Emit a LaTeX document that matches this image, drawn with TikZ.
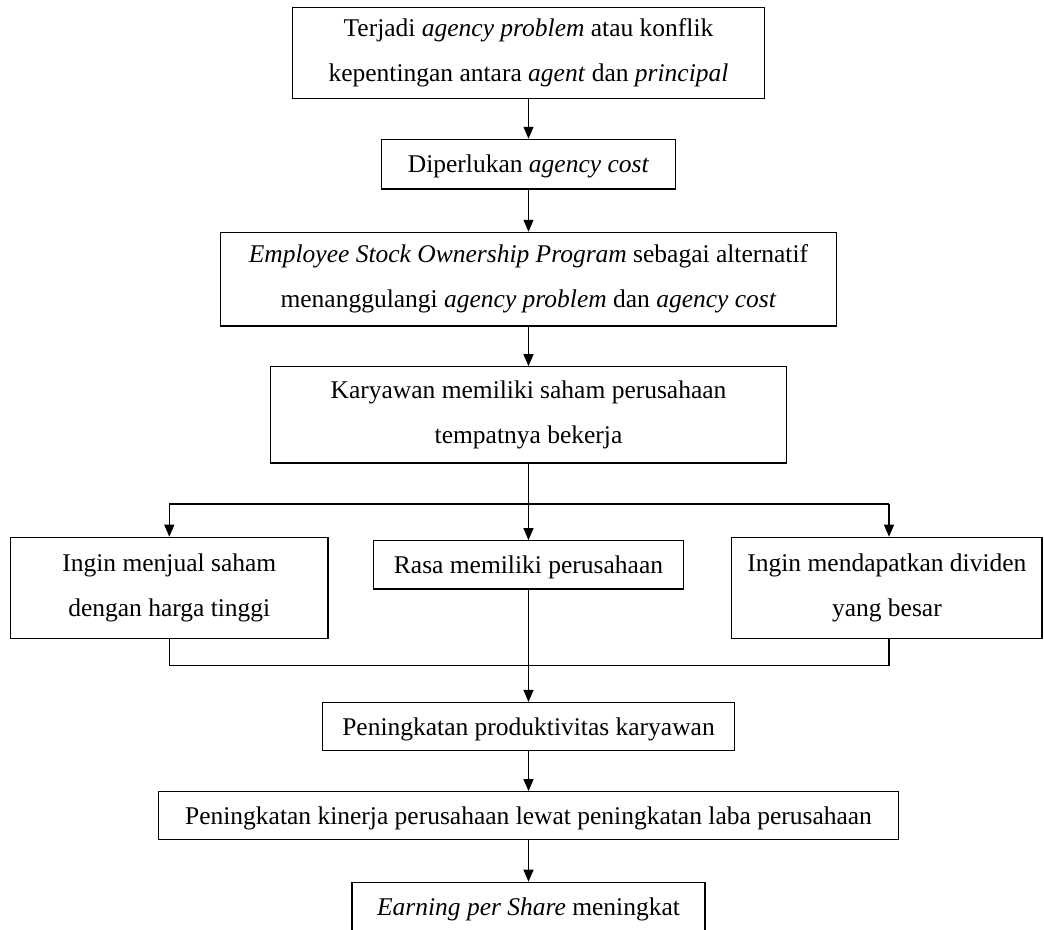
\documentclass[tikz,border=0pt]{standalone}
\usepackage{fontspec}
\setmainfont{Liberation Serif}
\usetikzlibrary{arrows.meta}
\begin{document}
\begin{tikzpicture}[x=1pt,y=-1pt,
  box/.style={draw, line width=1.2pt, rectangle, inner sep=0pt, align=center,
    font=\fontsize{25.5}{45}\selectfont, execute at begin node={\rule{0pt}{23pt}}},
  arr/.style={line width=1.2pt, -{Triangle[length=12pt,width=10pt]}},
  ln/.style={line width=1.2pt}]
\fill[white] (0,0) rectangle (1044,929);
\useasboundingbox (0,0) rectangle (1044,929);

\node[box, minimum width=472pt, minimum height=91pt] (b1) at (528.5,52.7)
  {Terjadi \textit{agency problem} atau konflik\\kepentingan antara \textit{agent} dan \textit{principal}};
\node[box, minimum width=294pt, minimum height=49.7pt] (b2) at (528.5,164.2)
  {Diperlukan \textit{agency cost}};
\node[box, minimum width=616pt, minimum height=93.7pt] (b3) at (528.5,279.2)
  {\textit{Employee Stock Ownership Program} sebagai alternatif\\menanggulangi \textit{agency problem} dan \textit{agency cost}};
\node[box, minimum width=515.7pt, minimum height=96.3pt] (b4) at (528.5,414.9)
  {Karyawan memiliki saham perusahaan\\tempatnya bekerja};
\node[box, minimum width=317.3pt, minimum height=101pt] (L) at (169.3,587.8)
  {Ingin menjual saham\\dengan harga tinggi};
\node[box, minimum width=309.4pt, minimum height=48.3pt] (M) at (528.5,564.9)
  {Rasa memiliki perusahaan};
\node[box, minimum width=310.3pt, minimum height=101pt] (R) at (886.9,587.8)
  {Ingin mendapatkan dividen\\yang besar};
\node[box, minimum width=412.7pt, minimum height=48.2pt] (P) at (528.5,726.6)
  {Peningkatan produktivitas karyawan};
\node[box, minimum width=740pt, minimum height=47.6pt] (K) at (528.5,815.5)
  {Peningkatan kinerja perusahaan lewat peningkatan laba perusahaan};
\node[box, minimum width=353pt, minimum height=48pt] (E) at (528.5,906.3)
  {\textit{Earning per Share} meningkat};

\coordinate (sp) at (528.5,504);
\coordinate (spL) at (169.3,504);
\coordinate (spR) at (889,504);
\coordinate (mg) at (528.5,665.7);

\draw[arr] (b1.south) -- (b2.north);
\draw[arr] (b2.south) -- (b3.north);
\draw[arr] (b3.south) -- (b4.north);
\draw[ln] (b4.south) -- (sp);
\draw[ln] (spL) -- (spR);
\draw[arr] (spL) -- (L.north);
\draw[arr] (sp) -- (M.north);
\draw[arr] (spR) -- (spR |- R.north);
\draw[ln] (L.south) -- (L.south |- mg) -- (spR |- mg) -- (spR |- R.south);
\draw[arr] (M.south) -- (P.north);
\draw[arr] (P.south) -- (K.north);
\draw[arr] (K.south) -- (E.north);
\end{tikzpicture}
\end{document}
